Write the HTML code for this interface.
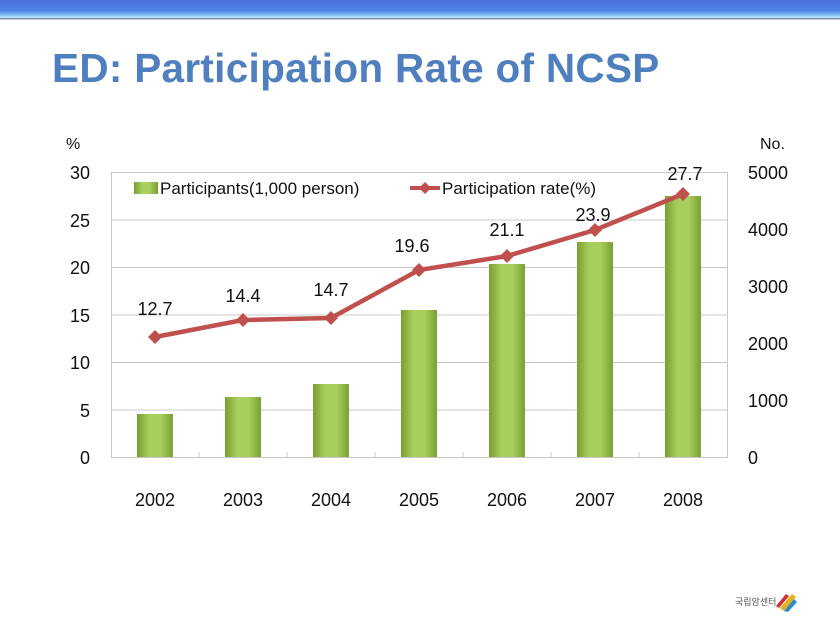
<!DOCTYPE html>
<html><head><meta charset="utf-8"><style>
body{margin:0;width:840px;height:630px;background:#fff;overflow:hidden;position:relative;font-family:"Liberation Sans",sans-serif}
.bar{position:absolute;left:0;top:0;width:840px;height:20px;background:linear-gradient(#4a6fd8 0%,#4f86e6 55%,#8fd0f5 80%,#cfeefd 88%,#5a6a9a 92%,#fff 100%)}
.t{position:absolute;left:52px;top:45px;font-size:40.5px;font-weight:bold;color:#4f7fbf;letter-spacing:0.3px}
</style></head><body>
<div class="bar"></div>
<div class="t">ED: Participation Rate of NCSP</div>
<svg width="840" height="630" style="position:absolute;left:0;top:0" font-family="Liberation Sans, sans-serif">
<defs><linearGradient id="g" x1="0" x2="1"><stop offset="0" stop-color="#7a9f32"/><stop offset="0.35" stop-color="#a8cf5e"/><stop offset="0.65" stop-color="#a8cf5e"/><stop offset="1" stop-color="#7a9f32"/></linearGradient></defs>
<g stroke="#c8c8c8" stroke-width="1">
<line x1="111" y1="172.5" x2="727" y2="172.5"/><line x1="111" y1="220" x2="727" y2="220"/><line x1="111" y1="267.5" x2="727" y2="267.5"/><line x1="111" y1="315" x2="727" y2="315"/><line x1="111" y1="362.5" x2="727" y2="362.5"/><line x1="111" y1="410" x2="727" y2="410"/>
<line x1="111" y1="457.5" x2="727" y2="457.5"/><line x1="111.5" y1="172" x2="111.5" y2="458"/><line x1="727.5" y1="172" x2="727.5" y2="458"/>
<line x1="199" y1="452" x2="199" y2="458"/><line x1="287" y1="452" x2="287" y2="458"/><line x1="375" y1="452" x2="375" y2="458"/><line x1="463" y1="452" x2="463" y2="458"/><line x1="551" y1="452" x2="551" y2="458"/><line x1="639" y1="452" x2="639" y2="458"/>
</g>
<g fill="url(#g)">
<rect x="137" y="414" width="36" height="43"/><rect x="225" y="397" width="36" height="60"/><rect x="313" y="384" width="36" height="73"/><rect x="401" y="310" width="36" height="147"/><rect x="489" y="264" width="36" height="193"/><rect x="577" y="242" width="36" height="215"/><rect x="665" y="196" width="36" height="261"/>
</g>
<polyline points="155,337 243,320 331,318 419,270 507,256 595,230 683,194" fill="none" stroke="#c0504d" stroke-width="4.5"/>
<g fill="#c0504d">
<path d="M155 330l7 7-7 7-7-7z"/><path d="M243 313l7 7-7 7-7-7z"/><path d="M331 311l7 7-7 7-7-7z"/><path d="M419 263l7 7-7 7-7-7z"/><path d="M507 249l7 7-7 7-7-7z"/><path d="M595 223l7 7-7 7-7-7z"/><path d="M683 187l7 7-7 7-7-7z"/>
</g>
<g font-size="18" fill="#111" text-anchor="middle">
<text x="155" y="315">12.7</text><text x="243" y="302">14.4</text><text x="331" y="296">14.7</text><text x="412" y="252">19.6</text><text x="507" y="236">21.1</text><text x="593" y="221">23.9</text><text x="685" y="180">27.7</text>
<text x="155" y="506">2002</text><text x="243" y="506">2003</text><text x="331" y="506">2004</text><text x="419" y="506">2005</text><text x="507" y="506">2006</text><text x="595" y="506">2007</text><text x="683" y="506">2008</text>
</g>
<g font-size="18" fill="#111" text-anchor="end">
<text x="90" y="179">30</text><text x="90" y="227">25</text><text x="90" y="274">20</text><text x="90" y="322">15</text><text x="90" y="369">10</text><text x="90" y="417">5</text><text x="90" y="464">0</text>
</g>
<g font-size="18" fill="#111" text-anchor="start">
<text x="748" y="179">5000</text><text x="748" y="236">4000</text><text x="748" y="293">3000</text><text x="748" y="350">2000</text><text x="748" y="407">1000</text><text x="748" y="464">0</text>
<text x="66" y="149" font-size="16">%</text><text x="760" y="149" font-size="16">No.</text>
</g>
<rect x="134" y="182" width="24" height="12" fill="url(#g)"/>
<text x="160" y="194" font-size="17" fill="#111">Participants(1,000 person)</text>
<line x1="410" y1="188" x2="440" y2="188" stroke="#c0504d" stroke-width="4"/><path d="M425 182l6 6-6 6-6-6z" fill="#c0504d"/>
<text x="442" y="194" font-size="17" fill="#111">Participation rate(%)</text>
<text x="735" y="605" font-size="9" fill="#555" font-family="Liberation Sans, Noto Sans CJK KR, sans-serif">국립암센터</text>
<path d="M780 608l12-14 4 3-12 14z" fill="#e8b020"/><path d="M784 611l10-12 3 3-9 10z" fill="#2a8ad0"/><path d="M776 606l10-12 3 2-10 12z" fill="#d03030"/>
</svg>
</body></html>
